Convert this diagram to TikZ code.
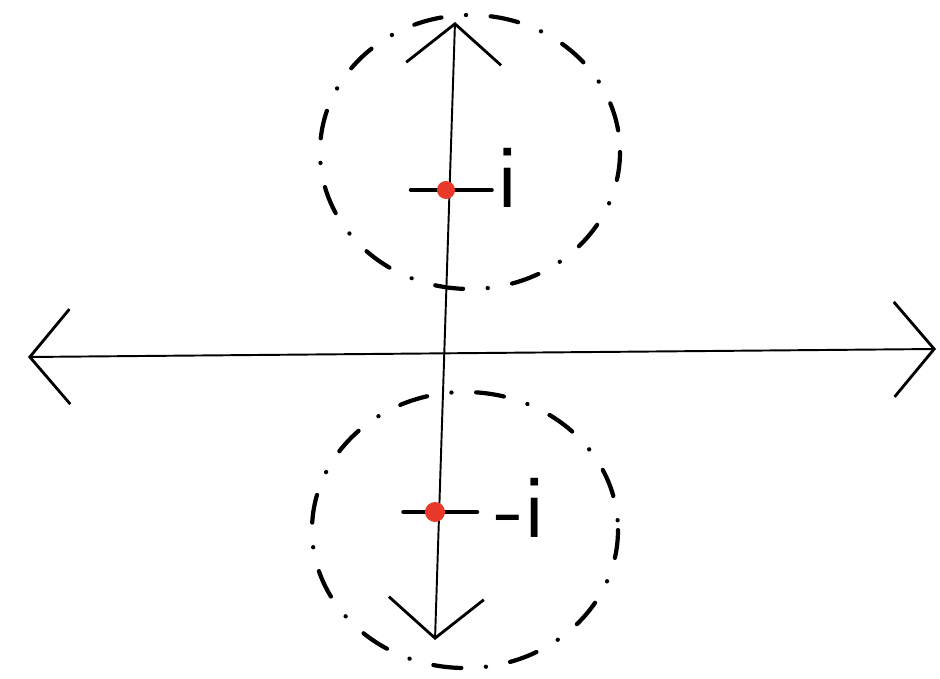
\documentclass[tikz,border=0pt]{standalone}
\usepackage{xcolor}
\usepackage{tikz}
\usetikzlibrary{arrows.meta}
\definecolor{sketchred}{HTML}{E8392A}
\tikzset{
  axis/.style={line width=1.1pt},
  ring/.style={line width=2.4pt,line cap=round,dash pattern=on 16pt off 14pt on 0.1pt off 14pt},
  tick/.style={line width=2.4pt,line cap=round},
  lbl/.style={font=\fontsize{52}{52}\selectfont\sffamily,inner sep=0pt}
}
\begin{document}
\begin{tikzpicture}[x=0.02cm,y=-0.02cm,>={Straight Barb[length=0.8cm,width=1.9cm,line width=1.6pt]}]
  \useasboundingbox (0,0) rectangle (940,679);
  % the two circles
  \draw[ring] (470,152) ellipse (150 and 137);
  \draw[ring] (465,530) ellipse (153 and 138);
  % axes
  \coordinate (xl) at (28,357);
  \coordinate (xr) at (936,349);
  \coordinate (yb) at (435,640);
  \coordinate (yt) at (455,22);
  \draw[axis,<->] (xl) -- (xr);
  \draw[axis,<->] (yb) -- (yt);
  % centres
  \coordinate (up) at (446,190);
  \coordinate (dn) at (435,512);
  \draw[tick] ([xshift=-20]up) -- ([xshift=26]up);
  \draw[tick] ([xshift=-18]dn) -- ([xshift=24]dn);
  \fill[sketchred] (up) circle (9);
  \fill[sketchred] (dn) circle (10);
  \node[lbl] (iup) at (508,178) {i};
  \node[lbl] (idn) at (520,508) {-i};
\end{tikzpicture}
\end{document}
